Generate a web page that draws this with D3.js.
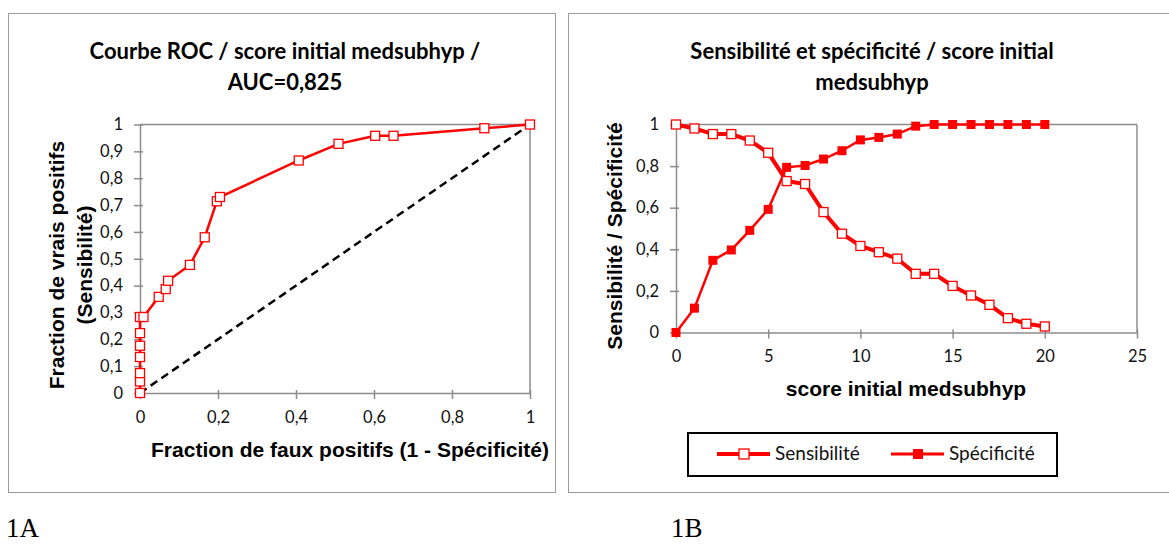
<!DOCTYPE html>
<html><head><meta charset="utf-8">
<script src="https://cdn.jsdelivr.net/npm/d3@7"></script>
<style>body{margin:0;background:#fff}svg{display:block}</style>
</head><body>
<svg id="c" width="1169" height="546"></svg>
<script>
// ROC data (1 - specificity, sensitivity)
const rocFPR = [0,0,0,0,0,0,0,0.009,0.048,0.066,0.072,0.128,0.166,0.197,0.205,0.407,0.509,0.603,0.650,0.883,1];
const rocTPR = [0,0.043,0.074,0.134,0.176,0.223,0.283,0.283,0.358,0.387,0.418,0.477,0.580,0.714,0.730,0.866,0.928,0.958,0.958,0.986,1];
const rocTicksX = [0,0.2,0.4,0.6,0.8,1];
const rocTicksY = [0,0.1,0.2,0.3,0.4,0.5,0.6,0.7,0.8,0.9,1];
// Sensitivity / specificity by score
const scores = [0,1,2,3,4,5,6,7,8,9,10,11,12,13,14,15,16,17,18,19,20];
const sensibilite = [1,0.981,0.954,0.954,0.923,0.864,0.728,0.714,0.579,0.475,0.416,0.386,0.355,0.282,0.282,0.224,0.178,0.133,0.069,0.042,0.029];
const specificite = [0,0.117,0.347,0.397,0.491,0.592,0.794,0.803,0.834,0.874,0.926,0.938,0.954,0.992,1,1,1,1,1,1,1];
const scoreTicksX = [0,5,10,15,20,25];
const scoreTicksY = [0,0.2,0.4,0.6,0.8,1];

const fmt = v => String(v).replace('.', ',');
const svg = d3.select('#c');
const RED = '#ff0000', GRID = '#8c8c8c';
const calib = 'Lato, "Open Sans", sans-serif';
const arialB = '"Liberation Sans", Arial, sans-serif';

// Panel frames
svg.append('rect').attr('x',8.5).attr('y',13.5).attr('width',547).attr('height',479).attr('fill','none').attr('stroke','#9a9a9a').attr('stroke-width',1);
svg.append('rect').attr('x',568.5).attr('y',13.5).attr('width',620).attr('height',479).attr('fill','none').attr('stroke','#9a9a9a').attr('stroke-width',1);

function frame(g, x, y, x0, x1, y0, y1, tx, ty, tickFmt) {
  g.append('line').attr('x1',x0).attr('x2',x1).attr('y1',y1).attr('y2',y1).attr('stroke',GRID).attr('stroke-width',1.5);
  g.append('line').attr('x1',x1).attr('x2',x1).attr('y1',y0).attr('y2',y1).attr('stroke',GRID).attr('stroke-width',1.5);
  const ax = g.append('g').attr('transform',`translate(0,${y0})`)
    .call(d3.axisBottom(x).tickValues(tx).tickFormat(tickFmt).tickSize(6).tickSizeOuter(0).tickPadding(12));
  const ay = g.append('g').attr('transform',`translate(${x0},0)`)
    .call(d3.axisLeft(y).tickValues(ty).tickFormat(tickFmt).tickSize(6).tickSizeOuter(0).tickPadding(11));
  [ax,ay].forEach(a=>{
    a.select('.domain').attr('stroke',GRID).attr('stroke-width',1.5);
    a.selectAll('.tick line').attr('stroke',GRID).attr('stroke-width',1.5);
    a.selectAll('.tick text').attr('font-family',calib).attr('font-size',16.5).attr('fill','#111');
  });
  ax.selectAll('.tick line').attr('y1',-3);
  ay.selectAll('.tick line').attr('x1',3);
}

// ---------- Panel A ----------
const gA = svg.append('g');
const xA = d3.scaleLinear().domain([0,1]).range([140,530]);
const yA = d3.scaleLinear().domain([0,1]).range([393,124.5]);
frame(gA, xA, yA, 140, 530, 393, 124.5, rocTicksX, rocTicksY, fmt);
gA.append('line').attr('x1',xA(0)).attr('y1',yA(0)).attr('x2',xA(1)).attr('y2',yA(1))
  .attr('stroke','#000').attr('stroke-width',2.5).attr('stroke-dasharray','8,5');
const rocPts = rocFPR.map((f,i)=>[f,rocTPR[i]]);
gA.append('path').datum(rocPts).attr('d',d3.line().x(d=>xA(d[0])).y(d=>yA(d[1])))
  .attr('fill','none').attr('stroke',RED).attr('stroke-width',2.5);
gA.selectAll('rect.m').data(rocPts).join('rect').attr('class','m')
  .attr('x',d=>xA(d[0])-4.5).attr('y',d=>yA(d[1])-4.5).attr('width',9).attr('height',9)
  .attr('fill','#fff').attr('stroke',RED).attr('stroke-width',1.3);
gA.append('text').attr('x',285).attr('y',59).attr('text-anchor','middle').attr('font-family',calib).attr('font-weight','bold').attr('font-size',22).text('Courbe ROC / score initial medsubhyp /');
gA.append('text').attr('x',285).attr('y',90).attr('text-anchor','middle').attr('font-family',calib).attr('font-weight','bold').attr('font-size',22).text('AUC=0,825');
gA.append('text').attr('x',350).attr('y',457).attr('text-anchor','middle').attr('font-family',arialB).attr('font-weight','bold').attr('font-size',21).text('Fraction de faux positifs (1 - Spécificité)');
gA.append('text').attr('transform','translate(64,265) rotate(-90)').attr('text-anchor','middle').attr('font-family',arialB).attr('font-weight','bold').attr('font-size',21).text('Fraction de vrais positifs');
gA.append('text').attr('transform','translate(92,265) rotate(-90)').attr('text-anchor','middle').attr('font-family',arialB).attr('font-weight','bold').attr('font-size',21).text('(Sensibilité)');

// ---------- Panel B ----------
const gB = svg.append('g');
const xB = d3.scaleLinear().domain([0,25]).range([676,1137]);
const yB = d3.scaleLinear().domain([0,1]).range([332.5,124.5]);
frame(gB, xB, yB, 676, 1137, 332.5, 124.5, scoreTicksX, scoreTicksY, fmt);
const specPts = scores.map((s,i)=>[s,specificite[i]]);
const sensPts = scores.map((s,i)=>[s,sensibilite[i]]);
const lineB = d3.line().x(d=>xB(d[0])).y(d=>yB(d[1]));
gB.append('path').datum(specPts).attr('d',lineB).attr('fill','none').attr('stroke',RED).attr('stroke-width',2.5);
gB.selectAll('rect.sp').data(specPts).join('rect').attr('class','sp')
  .attr('x',d=>xB(d[0])-4.5).attr('y',d=>yB(d[1])-4.5).attr('width',9).attr('height',9).attr('fill',RED);
gB.append('path').datum(sensPts).attr('d',lineB).attr('fill','none').attr('stroke',RED).attr('stroke-width',4);
gB.selectAll('rect.se').data(sensPts).join('rect').attr('class','se')
  .attr('x',d=>xB(d[0])-4.5).attr('y',d=>yB(d[1])-4.5).attr('width',9).attr('height',9)
  .attr('fill','#fff').attr('stroke',RED).attr('stroke-width',1.3);
gB.append('text').attr('x',872).attr('y',59).attr('text-anchor','middle').attr('font-family',calib).attr('font-weight','bold').attr('font-size',22).text('Sensibilité et spécificité / score initial');
gB.append('text').attr('x',872).attr('y',90).attr('text-anchor','middle').attr('font-family',calib).attr('font-weight','bold').attr('font-size',22).text('medsubhyp');
gB.append('text').attr('x',906).attr('y',396).attr('text-anchor','middle').attr('font-family',arialB).attr('font-weight','bold').attr('font-size',21).text('score initial medsubhyp');
gB.append('text').attr('transform','translate(622,236) rotate(-90)').attr('text-anchor','middle').attr('font-family',arialB).attr('font-weight','bold').attr('font-size',21).text('Sensibilité / Spécificité');

// Legend
const lg = gB.append('g');
lg.append('rect').attr('x',688).attr('y',433).attr('width',369).attr('height',43).attr('fill','#fff').attr('stroke','#000').attr('stroke-width',2);
const legendItems = [
  {label:'Sensibilité', x:717, filled:false, w:4},
  {label:'Spécificité', x:891, filled:true, w:3}
];
legendItems.forEach(it=>{
  lg.append('line').attr('x1',it.x).attr('x2',it.x+53).attr('y1',454).attr('y2',454).attr('stroke',RED).attr('stroke-width',it.w);
  lg.append('rect').attr('x',it.x+22).attr('y',449).attr('width',10).attr('height',10)
    .attr('fill',it.filled?RED:'#fff').attr('stroke',RED).attr('stroke-width',it.filled?0:1.3);
  lg.append('text').attr('x',it.x+58).attr('y',460).attr('font-family',calib).attr('font-size',19).attr('fill','#111').text(it.label);
});

// Figure labels
svg.append('text').attr('x',6).attr('y',537).attr('font-family','"Liberation Serif", serif').attr('font-size',27).text('1A');
svg.append('text').attr('x',671).attr('y',537).attr('font-family','"Liberation Serif", serif').attr('font-size',27).text('1B');
</script>
</body></html>
